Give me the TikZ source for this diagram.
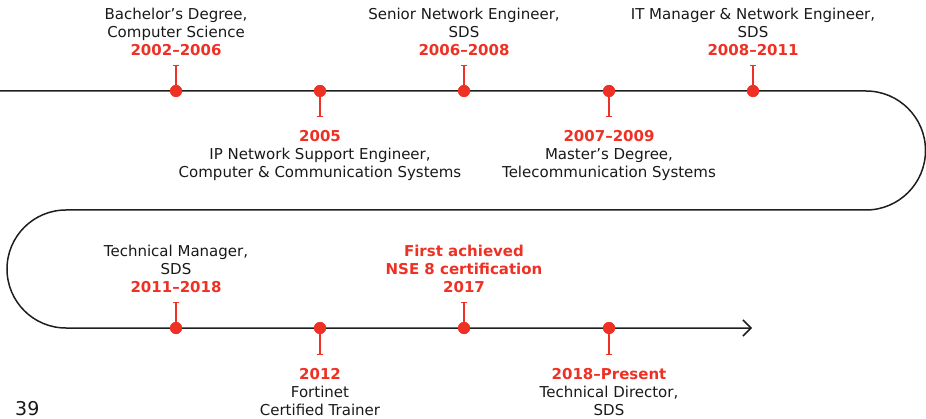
\documentclass[tikz,border=0pt]{standalone}
\usepackage{fontspec}
\setmainfont{DejaVu Sans}
\usetikzlibrary{arrows.meta}
\definecolor{tlred}{RGB}{238,49,36}
\definecolor{tlline}{RGB}{30,30,30}
\definecolor{tltext}{RGB}{25,25,25}
\newcommand{\yrs}[1]{\textcolor{tlred}{\bfseries #1}}
\begin{document}
\begin{tikzpicture}[x=1pt,y=1pt,
  dot/.style={circle,fill=tlred,inner sep=0pt,minimum size=12pt},
  stem/.style={draw=tlred,line width=1.2pt,-{Bar[width=6pt,line width=1pt]}},
  lbl/.style={align=center,inner sep=0pt,font=\fontsize{15}{18}\selectfont,text=tltext},
  tl/.style={draw=tlline,line width=1.5pt}
]
\useasboundingbox (0,0) rectangle (926,418);
% timeline
\coordinate (s) at (0,327);
\coordinate (r) at (866,327);
\coordinate (m) at (66,208);
\coordinate (e) at (752,90);
\draw[tl,-{Straight Barb[length=8pt,width=16pt,line width=1.5pt]}] (s) -- (r) arc[start angle=90,end angle=-90,radius=59.5pt] -- (m) arc[start angle=90,end angle=270,radius=59pt] -- (e);
% dots
\node[dot] (d1) at (176,327) {};
\node[dot] (d2) at (320,327) {};
\node[dot] (d3) at (464,327) {};
\node[dot] (d4) at (609,327) {};
\node[dot] (d5) at (753,327) {};
\node[dot] (d6) at (176,90) {};
\node[dot] (d7) at (320,90) {};
\node[dot] (d8) at (464,90) {};
\node[dot] (d9) at (609,90) {};
% stem ends
\coordinate (c1) at (176,353);
\coordinate (c2) at (320,301);
\coordinate (c3) at (464,353);
\coordinate (c4) at (609,301);
\coordinate (c5) at (753,353);
\coordinate (c6) at (176,116);
\coordinate (c7) at (320,63);
\coordinate (c8) at (464,116);
\coordinate (c9) at (609,63);
\foreach \i in {1,...,9} {\draw[stem] (d\i.center) -- (c\i);}
\foreach \i in {1,...,9} {\node[dot] at (d\i) {};}
% labels
\node[lbl,anchor=north] (l1) at (176,410) {Bachelor’s Degree,\\Computer Science\\\yrs{2002–2006}};
\node[lbl,anchor=north] (l2) at (320,288) {\yrs{2005}\\IP Network Support Engineer,\\Computer \& Communication Systems};
\node[lbl,anchor=north] (l3) at (464,410) {Senior Network Engineer,\\SDS\\\yrs{2006–2008}};
\node[lbl,anchor=north] (l4) at (609,288) {\yrs{2007–2009}\\Master’s Degree,\\Telecommunication Systems};
\node[lbl,anchor=north] (l5) at (753,410) {IT Manager \& Network Engineer,\\SDS\\\yrs{2008–2011}};
\node[lbl,anchor=north] (l6) at (176,173) {Technical Manager,\\SDS\\\yrs{2011–2018}};
\node[lbl,anchor=north] (l7) at (320,50) {\yrs{2012}\\Fortinet\\Certified Trainer};
\node[lbl,anchor=north,text=tlred,font=\fontsize{15}{18}\selectfont\bfseries] (l8) at (464,173) {First achieved\\NSE 8 certification\\2017};
\node[lbl,anchor=north] (l9) at (609,50) {\yrs{2018–Present}\\Technical Director,\\SDS};
\node[anchor=base west,inner sep=0pt,font=\fontsize{19}{22}\selectfont,text=tltext] (pg) at (15,3) {39};
\end{tikzpicture}
\end{document}
